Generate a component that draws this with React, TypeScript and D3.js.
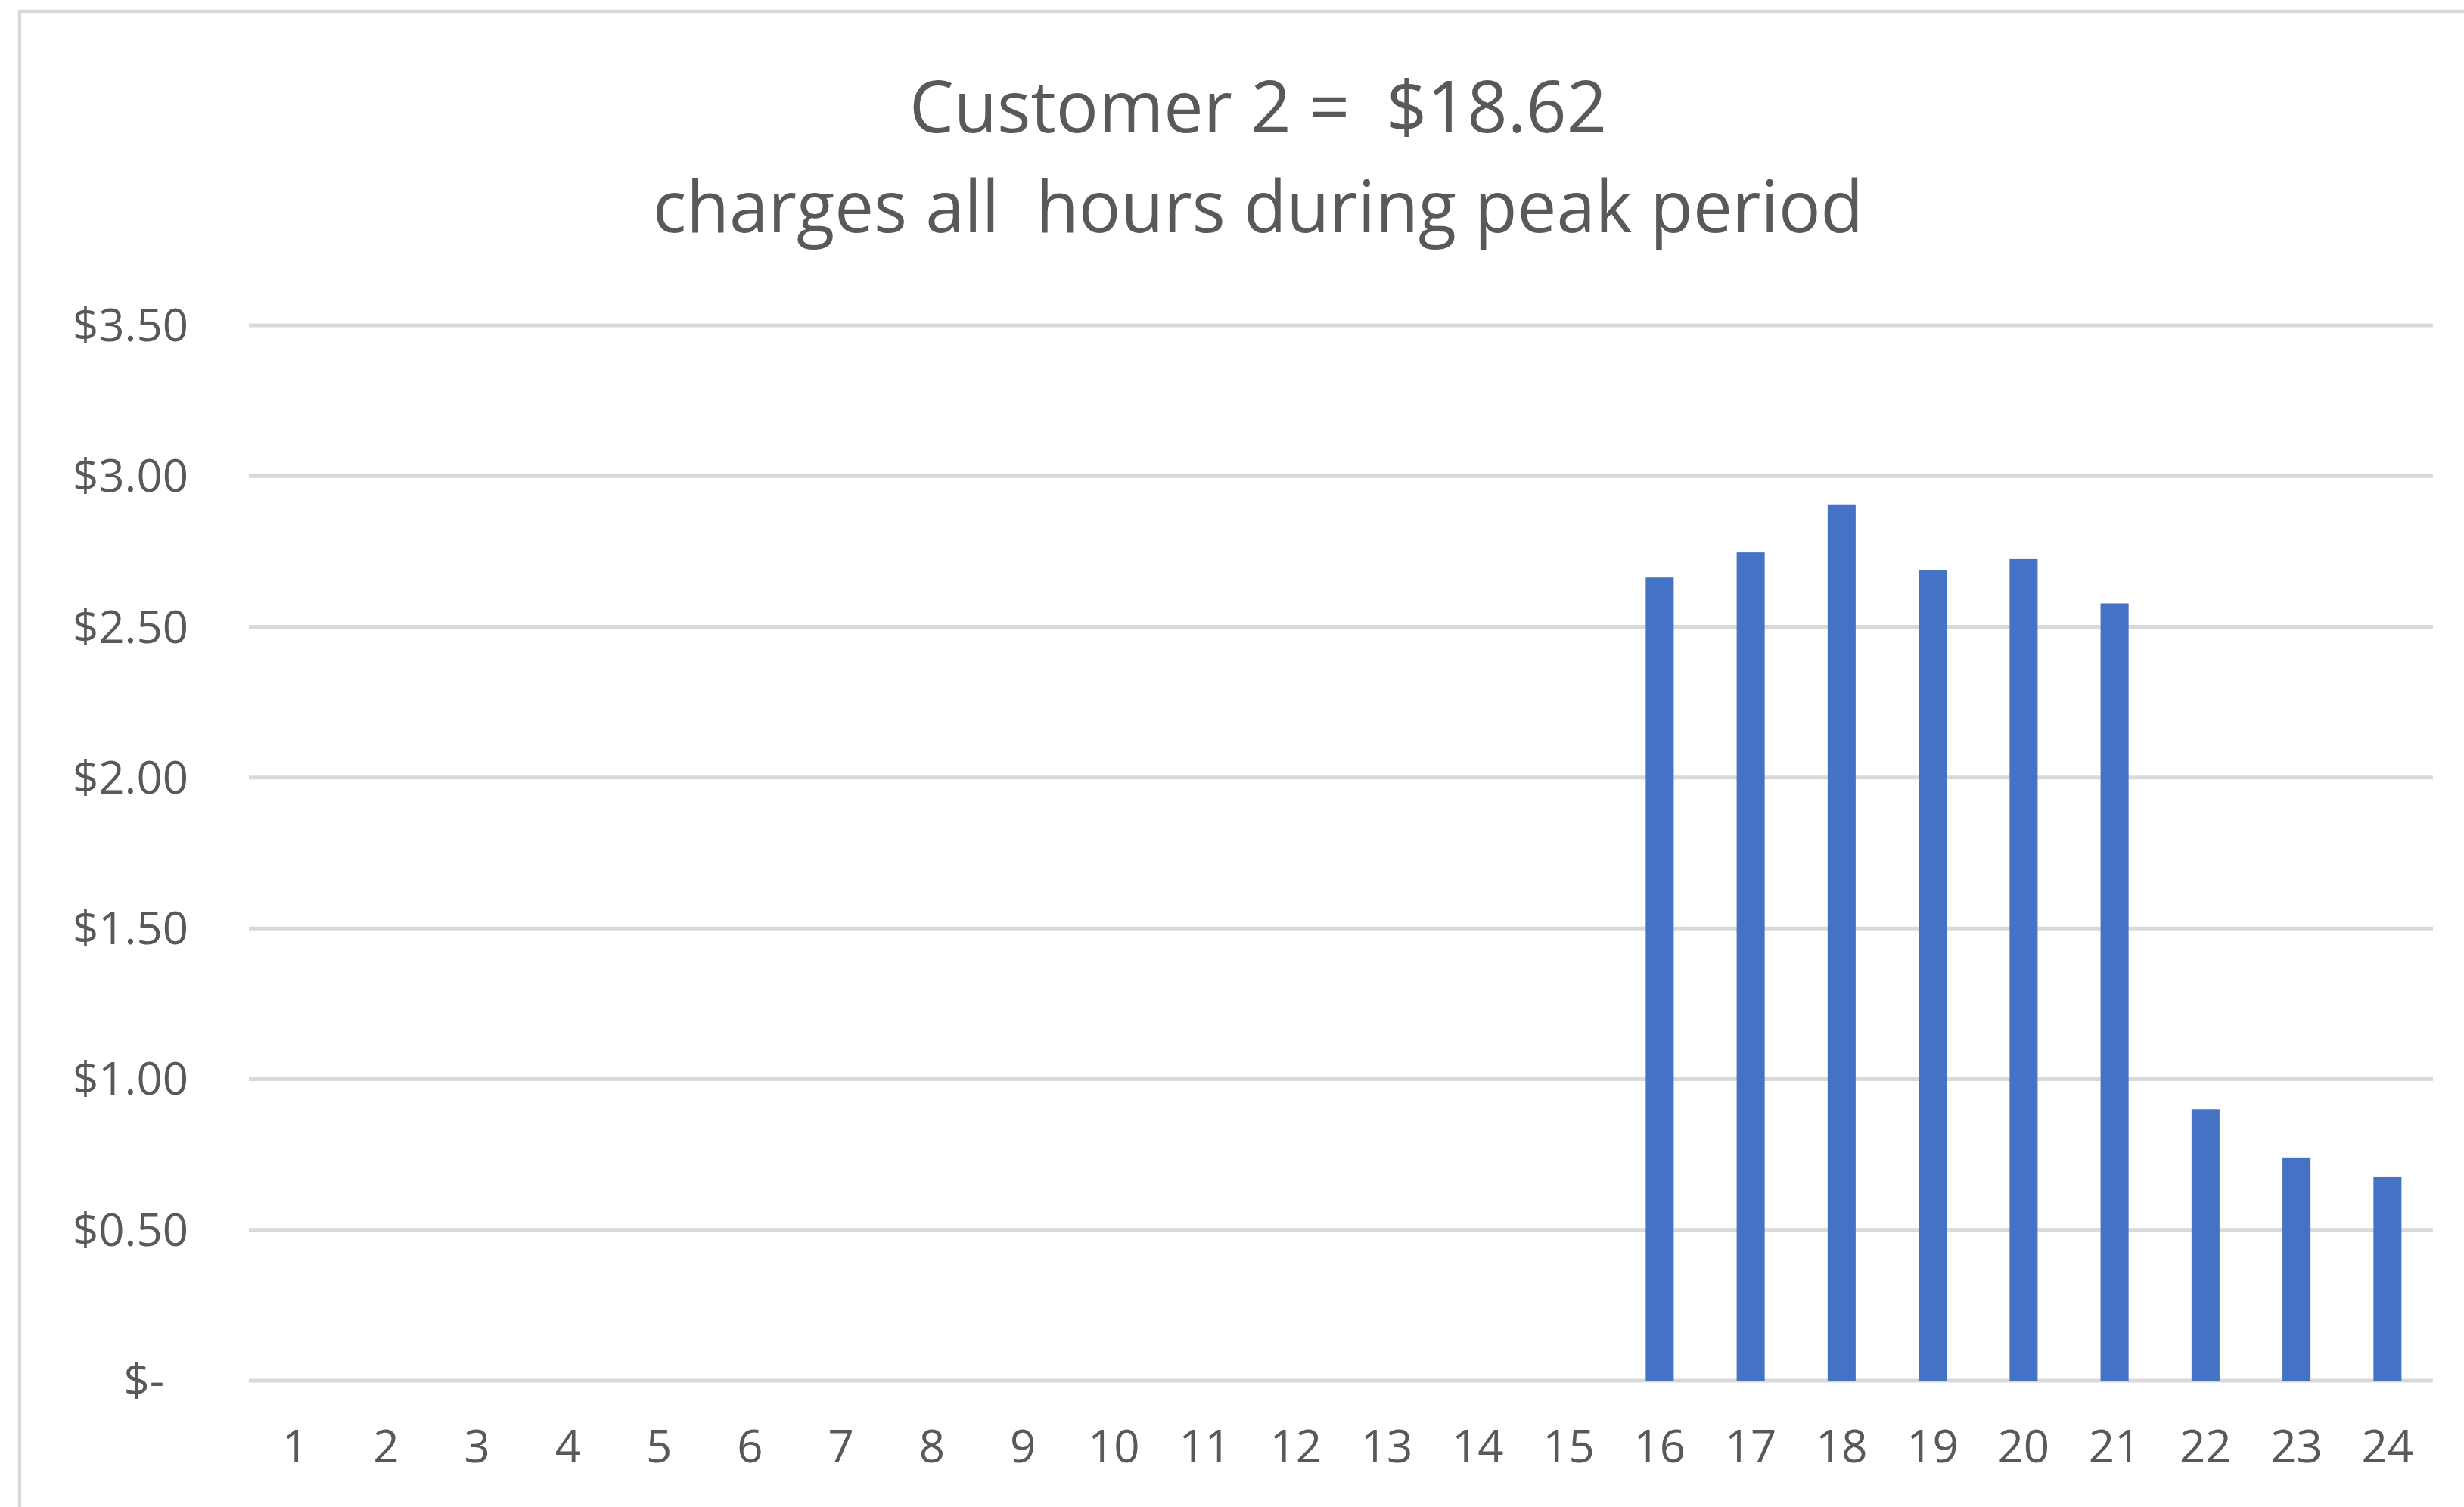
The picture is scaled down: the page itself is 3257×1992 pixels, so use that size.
import React from "react";
import * as d3 from "d3";

const hours = ["1","2","3","4","5","6","7","8","9","10","11","12","13","14","15","16","17","18","19","20","21","22","23","24"];
const charges = [0,0,0,0,0,0,0,0,0,0,0,0,0,0,0,2.664,2.747,2.906,2.689,2.725,2.578,0.90,0.738,0.675];
const yTicks = [0,0.5,1,1.5,2,2.5,3,3.5];
const titleLines = ["Customer 2 =  $18.62", "charges all  hours during peak period"];
const titleWidths = [922, 1600];

const W = 3257, H = 1992;
const plot = { left: 330, right: 3216, top: 430, bottom: 1825 };
const FONT = "'Open Sans', sans-serif";
const TEXT = "#595959";
const GRID = "#d9d9d9";
const BAR = "#4472C4";

export default function App() {
  const x = d3.scaleBand<string>().domain(hours).range([plot.left, plot.right]).paddingInner(0.692).paddingOuter(0.346);
  const y = d3.scaleLinear().domain([0, 3.5]).range([plot.bottom, plot.top]);
  const fmt = (v: number) => (v === 0 ? "$-" : "$" + d3.format(".2f")(v));
  return (
    <svg width={W} height={H} style={{ position: "absolute", left: 0, top: 0, background: "#fff" }}>
      <rect x={0} y={0} width={W} height={H} fill="#fff" />
      <rect x={26} y={15} width={3300} height={2100} fill="none" stroke={GRID} strokeWidth={4.5} />
      {titleLines.map((t, i) => (
        <text key={i} x={1663} y={175 + i * 132} textAnchor="middle" fontFamily={FONT} fontSize={96} fill={TEXT}
          textLength={titleWidths[i]} lengthAdjust="spacingAndGlyphs" style={{ whiteSpace: "pre" }}>{t}</text>
      ))}
      {yTicks.map((t) => (
        <g key={t}>
          <line x1={plot.left - 1} x2={plot.right} y1={y(t)} y2={y(t)} stroke={GRID} strokeWidth={5} />
          <text x={plot.left - 81} dx={t === 0 ? -32 : 0} y={y(t)} dy={21} textAnchor="end" fontFamily={FONT} fontSize={60} fill={TEXT}>{fmt(t)}</text>
        </g>
      ))}
      {hours.map((h, i) => (
        <g key={h}>
          {charges[i] > 0 && (
            <rect x={x(h)} y={y(charges[i])} width={x.bandwidth()} height={y(0) - y(charges[i])} fill={BAR} />
          )}
          <text x={(x(h) as number) + x.bandwidth() / 2} y={plot.bottom + 108} textAnchor="middle" fontFamily={FONT} fontSize={60} fill={TEXT}>{h}</text>
        </g>
      ))}
    </svg>
  );
}
